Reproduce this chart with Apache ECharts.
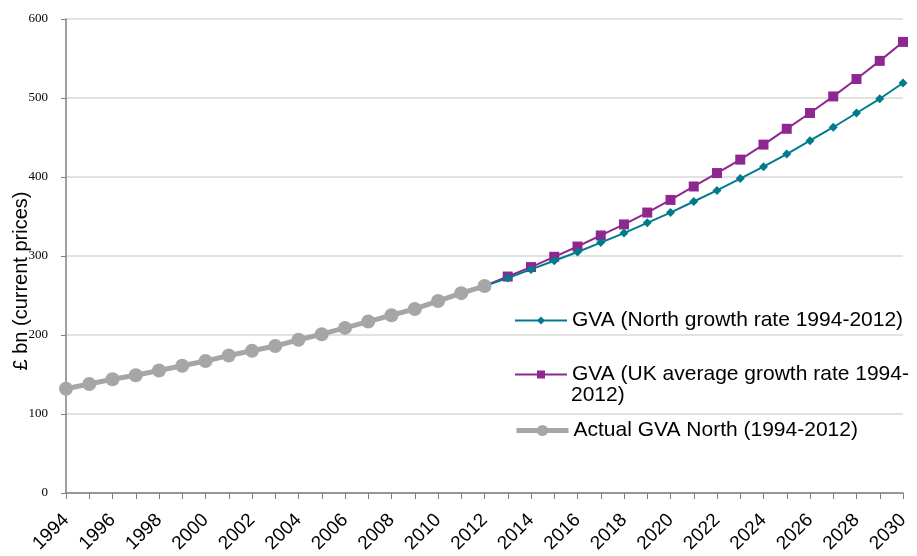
<!DOCTYPE html>
<html>
<head>
<meta charset="utf-8">
<script src="https://cdn.jsdelivr.net/npm/echarts@6/dist/echarts.min.js"></script>
<style>
  html, body { margin: 0; padding: 0; background: #fff; }
  #chart { width: 917px; height: 556px; }
</style>
</head>
<body>
<div id="chart"></div>
<script>
// years 1994 - 2030
const years = [];
for (let y = 1994; y <= 2030; y++) years.push(String(y));

const nameNorth = 'GVA (North growth rate 1994-2012)';
const nameUK = 'GVA (UK average growth rate 1994-\n2012)';
const nameActual = 'Actual GVA North (1994-2012)';

// actual 1994-2012
const actual = [132, 138, 144, 149, 155, 161, 167, 174, 180, 186, 194, 201, 209, 217, 225, 233, 243, 253, 262];
// projections 2012-2030 (start from last actual point)
const northGrowth = [262, 272, 283, 294, 305, 317, 329, 342, 355, 369, 383, 398, 413, 429, 446, 463, 481, 499, 519];
const ukGrowth = [262, 274, 286, 299, 312, 326, 340, 355, 371, 388, 405, 422, 441, 461, 481, 502, 524, 547, 571];

const pad = (arr, before) => new Array(before).fill(null).concat(arr);
const actualData = actual.concat(new Array(years.length - actual.length).fill(null));
const northData = pad(northGrowth, years.length - northGrowth.length);
const ukData = pad(ukGrowth, years.length - ukGrowth.length);

const chart = echarts.init(document.getElementById('chart'));

const legendText = { fontFamily: 'Liberation Sans, Arial', fontSize: 21, color: '#000' };
// legend shows first line only, second line of the UK name drawn below it
const firstLine = (name) => name.split('\n')[0];

chart.setOption({
  animation: false,
  grid: { left: 66, right: 14, top: 19, bottom: 63, outerBoundsMode: 'none', containLabel: false },
  legend: [
    { data: [nameNorth], left: 514, top: 310, padding: 0, itemGap: 0, itemWidth: 52, itemHeight: 10, formatter: firstLine, textStyle: legendText },
    { data: [nameUK], left: 514, top: 364, padding: 0, itemGap: 0, itemWidth: 52, itemHeight: 10, formatter: firstLine, textStyle: legendText },
    { data: [nameActual], left: 514, top: 420, padding: 0, itemGap: 0, itemWidth: 52, itemHeight: 14, lineStyle: { width: 5 }, textStyle: legendText }
  ],
  graphic: [
    { type: 'text', left: 571, top: 385, style: { text: '2012)', fontFamily: 'Liberation Sans, Arial', fontSize: 21, fill: '#000' } }
  ],
  xAxis: {
    type: 'category',
    data: years,
    boundaryGap: false,
    axisLine: { lineStyle: { color: '#808080', width: 1.5 } },
    axisTick: { interval: 0, length: 6, lineStyle: { color: '#808080' } },
    axisLabel: {
      interval: 1,
      rotate: 45,
      margin: 24,
      fontFamily: 'Liberation Sans, Arial',
      fontSize: 19,
      color: '#000'
    },
    splitLine: { show: false }
  },
  yAxis: {
    type: 'value',
    min: 0,
    max: 600,
    interval: 100,
    name: '£ bn (current prices)',
    nameLocation: 'middle',
    nameGap: 35,
    nameMoveOverlap: false,
    nameTextStyle: { fontFamily: 'Liberation Sans, Arial', fontSize: 20, color: '#000', padding: [0, 50, 0, 0] },
    axisLine: { show: true, lineStyle: { color: '#808080', width: 1.5 } },
    axisTick: { show: true, length: 5, lineStyle: { color: '#808080' } },
    axisLabel: { fontFamily: 'Liberation Serif, Times New Roman', fontSize: 13, color: '#000', margin: 18, padding: [0, 0, 7, 0] },
    splitLine: { lineStyle: { color: '#d9d9d9', width: 1.5 } }
  },
  series: [
    {
      name: nameNorth,
      type: 'line',
      data: northData,
      symbol: 'diamond',
      symbolSize: 9,
      color: '#007b8c',
      lineStyle: { width: 2, color: '#007b8c' },
      itemStyle: { color: '#007b8c' },
      z: 3
    },
    {
      name: nameUK,
      type: 'line',
      data: ukData,
      symbol: 'rect',
      symbolSize: 10,
      color: '#8e278f',
      lineStyle: { width: 2, color: '#8e278f' },
      itemStyle: { color: '#8e278f' },
      z: 2
    },
    {
      name: nameActual,
      type: 'line',
      data: actualData,
      symbol: 'circle',
      symbolSize: 14,
      color: '#a6a6a6',
      lineStyle: { width: 5, color: '#a6a6a6' },
      itemStyle: { color: '#a6a6a6' },
      z: 4
    }
  ]
});
</script>
</body>
</html>
